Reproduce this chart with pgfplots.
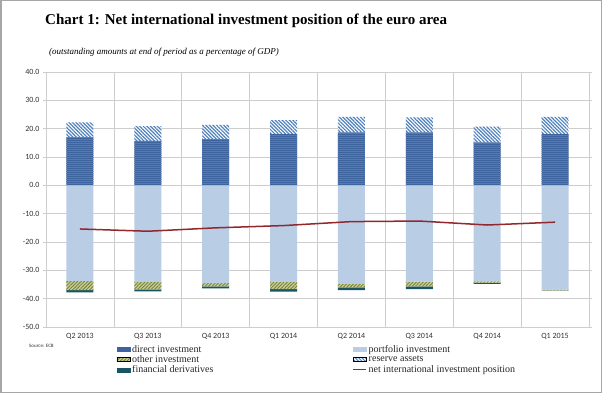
\documentclass[border=0pt]{standalone}
\usepackage{fontspec}
\setmainfont{Liberation Serif}
\newfontfamily\calib{Carlito}
\usepackage{pgfplots}
\usepackage{pgfplotstable}
\pgfplotsset{compat=1.18}
\usetikzlibrary{patterns,patterns.meta}

\definecolor{dirblue}{RGB}{62,100,160}
\definecolor{dirline}{RGB}{88,122,176}
\definecolor{portblue}{RGB}{185,205,229}
\definecolor{resblue}{RGB}{79,129,189}
\definecolor{othgreen}{RGB}{110,135,55}
\definecolor{othbg}{RGB}{208,203,155}
\definecolor{derteal}{RGB}{25,85,100}
\definecolor{niipred}{RGB}{145,40,45}
\definecolor{gridgray}{RGB}{205,205,205}

\pgfplotstableread{
x direct reserve portfolio other deriv niip
0 16.9 5.3 -33.7 -3.3 -0.8 -15.4
1 15.7 5.2 -34.1 -2.6 -0.7 -16.2
2 16.3 5.0 -34.5 -1.2 -0.7 -15.0
3 18.1 4.9 -34.1 -2.5 -0.9 -14.2
4 18.7 5.5 -34.8 -1.2 -1.0 -12.8
5 18.7 5.3 -34.0 -1.7 -0.9 -12.6
6 15.2 5.5 -33.9 -0.4 -0.5 -14.0
7 18.1 6.1 -36.8 -0.3 -0.1 -13.0
}\datatable

\pgfplotsset{
  common/.style={
    at={(46pt,-327pt)}, anchor=south west, scale only axis,
    width=543pt, height=255pt,
    xmin=-0.5, xmax=7.5, ymin=-50, ymax=40,
  },
}

\begin{document}
\begin{tikzpicture}
\useasboundingbox (0,0) rectangle (602pt,-393pt);
\fill[white] (0,0) rectangle (602pt,-393pt);

% positive stack + axes
\begin{axis}[common,
  ybar stacked, bar width=27pt,
  xtick={0,...,7},
  xticklabels={Q2 2013,Q3 2013,Q4 2013,Q1 2014,Q2 2014,Q3 2014,Q4 2014,Q1 2015},
  minor xtick={-0.5,0.5,...,7.5},
  xminorgrids, ymajorgrids,
  ytick={-50,-40,...,40},
  grid style={gridgray, line width=0.7pt},
  minor grid style={gridgray, line width=0.7pt},
  axis line style={gridgray, line width=0.7pt},
  x axis line style={draw=none},
  major x tick style={draw=none},
  minor x tick style={draw=none},
  ytick style={gridgray, line width=0.7pt},
  tick align=outside, major tick length=3pt,
  yticklabel style={/pgf/number format/.cd, fixed, fixed zerofill, precision=1, assume math mode=true},
  ticklabel style={font=\calib\fontsize{8}{9}\selectfont, text=black!80},
]
\addplot[draw=none, fill=dirblue, postaction={pattern={Lines[angle=0,distance=2pt,line width=0.45pt]}, pattern color=dirline}] table[x=x,y=direct] {\datatable};
\addplot[draw=none, fill=white, postaction={pattern={Lines[angle=-45,distance=2.5pt,line width=1.2pt]}, pattern color=resblue}] table[x=x,y=reserve] {\datatable};
\end{axis}

% negative stack
\begin{axis}[common, hide axis, ybar stacked, bar width=27pt]
\addplot[draw=none, fill=portblue] table[x=x,y=portfolio] {\datatable};
\addplot[draw=none, fill=othbg, postaction={pattern={Lines[angle=45,distance=2.4pt,line width=0.9pt]}, pattern color=othgreen}] table[x=x,y=other] {\datatable};
\addplot[draw=none, fill=derteal] table[x=x,y=deriv] {\datatable};
\end{axis}

% line + legend
\begin{axis}[common, hide axis,
  legend columns=2,
  legend cell align=left,
  legend style={at={(axis description cs:0.13,-0.062)}, anchor=north west,
    draw=none, fill=none, inner sep=0pt,
    font=\fontsize{10}{10}\selectfont, text=black!85,
    row sep=-2.2pt,
    /tikz/column 2/.style={column sep=137pt}},
]
\addlegendimage{legend image code/.code={\fill[dirblue] (0pt,-2pt) rectangle (13pt,2pt);}}
\addlegendentry{direct investment}
\addlegendimage{legend image code/.code={\fill[portblue] (0pt,-2pt) rectangle (13pt,2pt);}}
\addlegendentry{portfolio investment}
\addlegendimage{legend image code/.code={\fill[othbg] (0pt,-2pt) rectangle (13pt,2pt); \fill[pattern={Lines[angle=45,distance=2.4pt,line width=0.9pt]}, pattern color=othgreen] (0pt,-2pt) rectangle (13pt,2pt);}}
\addlegendentry{other investment}
\addlegendimage{legend image code/.code={\fill[pattern={Lines[angle=-45,distance=2.4pt,line width=1pt]}, pattern color=resblue] (0pt,-2pt) rectangle (13pt,2pt);}}
\addlegendentry{reserve assets}
\addlegendimage{legend image code/.code={\fill[derteal] (0pt,-2pt) rectangle (13pt,2pt);}}
\addlegendentry{financial derivatives}
\addplot[niipred, line width=1.5pt, mark=none, legend image code/.code={\draw[niipred, line width=1.2pt] (0pt,0pt) -- (13pt,0pt);}] table[x=x,y=niip] {\datatable};
\addlegendentry{net international investment position}
\end{axis}

\node[anchor=west, font=\bfseries\fontsize{15}{17}\selectfont, inner sep=0pt] at (45pt,-21pt) {Chart 1: Net international investment position of the euro area};
\node[anchor=west, font=\itshape\fontsize{9}{10}\selectfont, inner sep=0pt] at (49pt,-52pt) {(outstanding amounts at end of period as a percentage of GDP)};
\node[anchor=west, font=\calib\fontsize{5}{6}\selectfont, inner sep=0pt, text=black!80] at (29pt,-346pt) {Source: ECB};
\draw[gray!70, line width=1.5pt] (0.75pt,-0.75pt) rectangle (601.25pt,-392.25pt);
\end{tikzpicture}
\end{document}
